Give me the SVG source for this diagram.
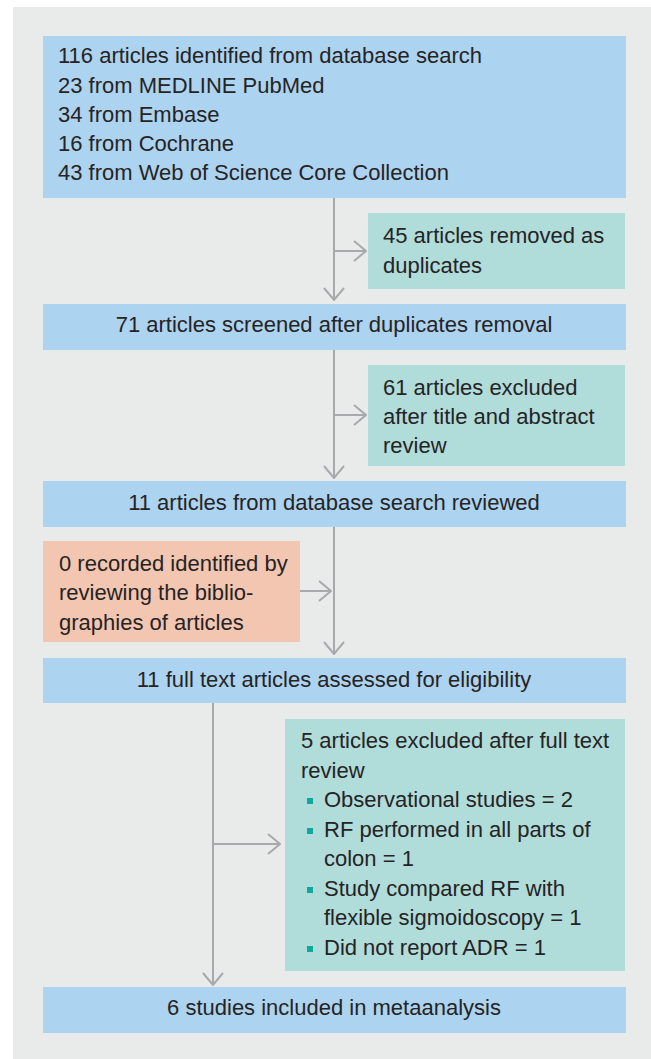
<svg xmlns="http://www.w3.org/2000/svg" width="651" height="1059" viewBox="0 0 651 1059">
<style>
.t{font-family:"Liberation Sans",Arial,sans-serif;font-size:22px;fill:#262324}
.c{text-anchor:middle}
.blue{fill:#acd3ef}
.teal{fill:#b0dcda}
.salmon{fill:#f2c6b1}
.ln{stroke:#a7a9ac;stroke-width:2;fill:none}
.bul{fill:#10a89a}
</style>
<defs>
<marker id="ah" viewBox="0 0 14 22" refX="13" refY="11" markerWidth="14" markerHeight="22" markerUnits="userSpaceOnUse" orient="auto">
<path d="M1,1 L13,11 L1,21" stroke="#a7a9ac" stroke-width="2" fill="none"/>
</marker>
</defs>
<rect x="13" y="7" width="638" height="1052" fill="#e9ebeb"/>
<g id="connectors">
<line class="ln" x1="334" y1="198" x2="334" y2="300" marker-end="url(#ah)"/>
<line class="ln" x1="334" y1="251" x2="366" y2="251" marker-end="url(#ah)"/>
<line class="ln" x1="334" y1="350" x2="334" y2="478" marker-end="url(#ah)"/>
<line class="ln" x1="334" y1="415" x2="366" y2="415" marker-end="url(#ah)"/>
<line class="ln" x1="334" y1="527" x2="334" y2="654" marker-end="url(#ah)"/>
<line class="ln" x1="300" y1="591" x2="331" y2="591" marker-end="url(#ah)"/>
<line class="ln" x1="213" y1="703" x2="213" y2="985" marker-end="url(#ah)"/>
<line class="ln" x1="213" y1="844" x2="280" y2="844" marker-end="url(#ah)"/>
</g>
<g id="n1">
<rect class="blue" x="43" y="36" width="583" height="162"/>
<text class="t" x="58" y="63">116 articles identified from database search</text>
<text class="t" x="58" y="93">23 from MEDLINE PubMed</text>
<text class="t" x="58" y="122">34 from Embase</text>
<text class="t" x="58" y="151">16 from Cochrane</text>
<text class="t" x="58" y="180">43 from Web of Science Core Collection</text>
</g>
<g id="n2">
<rect class="teal" x="368" y="213" width="257" height="76"/>
<text class="t" x="383" y="243">45 articles removed as</text>
<text class="t" x="383" y="273">duplicates</text>
</g>
<g id="n3">
<rect class="blue" x="43" y="304" width="583" height="46"/>
<text class="t c" x="334" y="332">71 articles screened after duplicates removal</text>
</g>
<g id="n4">
<rect class="teal" x="368" y="365" width="257" height="101"/>
<text class="t" x="383" y="395">61 articles excluded</text>
<text class="t" x="383" y="424">after title and abstract</text>
<text class="t" x="383" y="453">review</text>
</g>
<g id="n5">
<rect class="blue" x="43" y="481" width="583" height="46"/>
<text class="t c" x="334" y="510">11 articles from database search reviewed</text>
</g>
<g id="n6">
<rect class="salmon" x="43" y="541" width="257" height="101"/>
<text class="t" x="59" y="571">0 recorded identified by</text>
<text class="t" x="59" y="600">reviewing the biblio-</text>
<text class="t" x="59" y="630">graphies of articles</text>
</g>
<g id="n7">
<rect class="blue" x="43" y="658" width="583" height="45"/>
<text class="t c" x="334" y="687">11 full text articles assessed for eligibility</text>
</g>
<g id="n8">
<rect class="teal" x="285" y="719" width="340" height="252"/>
<text class="t" x="301" y="748">5 articles excluded after full text</text>
<text class="t" x="301" y="778">review</text>
<rect class="bul" x="307" y="798" width="6" height="6"/>
<text class="t" x="324" y="807">Observational studies = 2</text>
<rect class="bul" x="307" y="828" width="6" height="6"/>
<text class="t" x="324" y="837">RF performed in all parts of</text>
<text class="t" x="324" y="866">colon = 1</text>
<rect class="bul" x="307" y="887" width="6" height="6"/>
<text class="t" x="324" y="896">Study compared RF with</text>
<text class="t" x="324" y="925">flexible sigmoidoscopy = 1</text>
<rect class="bul" x="307" y="946" width="6" height="6"/>
<text class="t" x="324" y="955">Did not report ADR = 1</text>
</g>
<g id="n9">
<rect class="blue" x="43" y="987" width="583" height="46"/>
<text class="t c" x="334" y="1015">6 studies included in metaanalysis</text>
</g>
</svg>
